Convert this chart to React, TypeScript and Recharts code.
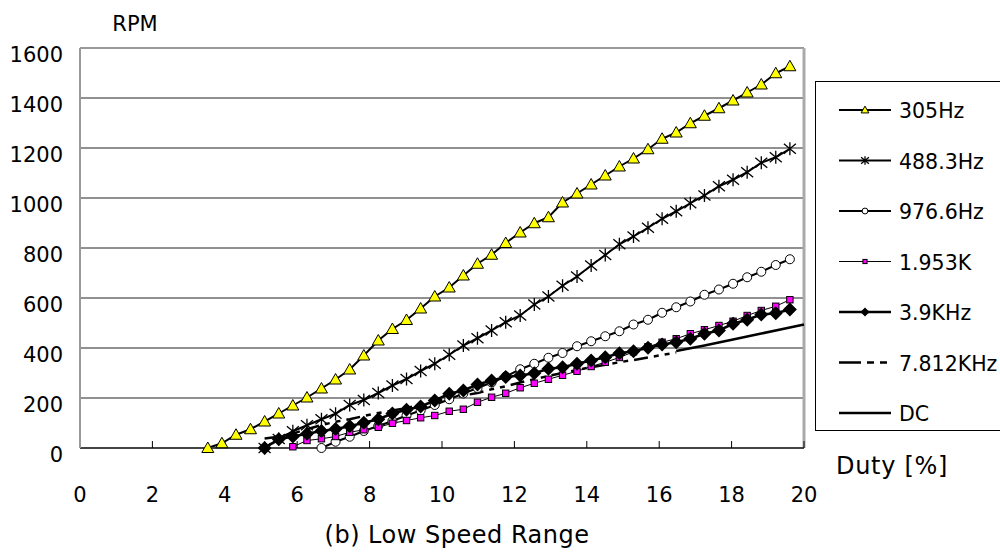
import { CartesianGrid, Legend, Line, LineChart, ReferenceLine, XAxis, YAxis } from 'recharts';

// duty steps of the 8-bit PWM (n = 9 .. 50)
const duty = [
  3.53, 3.92, 4.31, 4.71, 5.1, 5.49, 5.88, 6.27, 6.67, 7.06, 7.45, 7.84, 8.24, 8.63,
  9.02, 9.41, 9.8, 10.2, 10.59, 10.98, 11.37, 11.76, 12.16, 12.55, 12.94, 13.33, 13.73,
  14.12, 14.51, 14.9, 15.29, 15.69, 16.08, 16.47, 16.86, 17.25, 17.65, 18.04, 18.43,
  18.82, 19.22, 19.61,
];

const rpm305Hz = [
  0, 19, 53, 75, 106, 138, 170, 202, 238, 274, 314, 370, 430, 476, 512, 558, 606, 642,
  690, 737, 773, 820, 862, 899, 923, 982, 1018, 1054, 1090, 1126, 1158, 1195, 1237, 1262,
  1299, 1329, 1359, 1390, 1422, 1454, 1499, 1527,
];
const rpm488Hz = [
  0, 36, 67, 91, 115, 137, 172, 192, 220, 250, 276, 308, 337, 373, 410, 439, 470, 503,
  530, 574, 606, 649, 686, 730, 772, 815, 846, 881, 917, 947, 979, 1010, 1047, 1073, 1103,
  1141, 1163, 1197,
];
const rpm976Hz = [
  0, 25, 45, 68, 88, 108, 130, 150, 172, 195, 218, 240, 262, 286, 315, 337, 361, 380, 407,
  427, 447, 467, 494, 513, 541, 563, 586, 613, 634, 657, 683, 705, 732, 755,
];
const rpm1953Hz = [
  5, 30, 37, 46, 63, 73, 83, 99, 110, 121, 130, 147, 155, 183, 203, 219, 241, 259, 275,
  291, 307, 326, 343, 362, 385, 405, 423, 437, 457, 473, 490, 507, 530, 550, 567, 593,
];
const rpm3900Hz = [
  0, 35, 46, 57, 68, 76, 87, 101, 115, 138, 153, 166, 190, 217, 230, 254, 270, 284, 290,
  299, 317, 323, 337, 350, 363, 379, 387, 401, 414, 423, 437, 457, 470, 497, 513, 534, 539,
  554,
];
const rpm7812Hz = [
  38, 45, 58, 75, 92, 105, 115, 128, 140, 150, 160, 172, 185, 198, 210, 220, 235, 247, 262,
  275, 288, 300, 312, 323, 333, 343, 352, 362, 372, 382,
];
const dcDuty = [16.47, 17.25, 18.04, 18.82, 19.61, 20];
const dcRpm = [388, 410, 434, 458, 482, 494];

const xTicks = [0, 2, 4, 6, 8, 10, 12, 14, 16, 18, 20];
const yTicks = [0, 200, 400, 600, 800, 1000, 1200, 1400, 1600];

const font = '"DejaVu Sans", sans-serif';

const toPoints = (xs: number[], ys: number[]) => ys.map((y, i) => ({ x: xs[i], y }));

const series = [
  { name: '305Hz', data: toPoints(duty.slice(0), rpm305Hz), kind: 'triangle', width: 2 },
  { name: '488.3Hz', data: toPoints(duty.slice(4), rpm488Hz), kind: 'star', width: 2 },
  { name: '976.6Hz', data: toPoints(duty.slice(8), rpm976Hz), kind: 'circle', width: 2 },
  { name: '1.953K', data: toPoints(duty.slice(6), rpm1953Hz), kind: 'square', width: 1 },
  { name: '3.9KHz', data: toPoints(duty.slice(4), rpm3900Hz), kind: 'diamond', width: 2.5 },
  { name: '7.812KHz', data: toPoints(duty.slice(4), rpm7812Hz), kind: 'none', width: 2.5, dash: '14 6 5 6 5 6' },
  { name: 'DC', data: toPoints(dcDuty, dcRpm), kind: 'none', width: 2.5 },
];

function Marker({ kind, cx, cy, s = 1 }: { kind: string; cx: number; cy: number; s?: number }) {
  if (cx == null || cy == null) return null;
  switch (kind) {
    case 'triangle':
      return (
        <path
          d={`M${cx},${cy - 6 * s} L${cx + 6 * s},${cy + 4.5 * s} L${cx - 6 * s},${cy + 4.5 * s} Z`}
          fill="#ffff00"
          stroke="#000"
          strokeWidth={1}
        />
      );
    case 'star':
      return (
        <path
          d={`M${cx},${cy - 6.5 * s} V${cy + 6.5 * s} M${cx - 6 * s},${cy - 5 * s} L${cx + 6 * s},${cy + 5 * s} M${cx - 6 * s},${cy + 5 * s} L${cx + 6 * s},${cy - 5 * s}`}
          stroke="#000"
          strokeWidth={1.3}
          fill="none"
        />
      );
    case 'circle':
      return <circle cx={cx} cy={cy} r={4.5 * s} fill="#fff" stroke="#000" strokeWidth={1} />;
    case 'square':
      return (
        <rect x={cx - 3.2 * s} y={cy - 3.2 * s} width={6.4 * s} height={6.4 * s} fill="#ff00ff" stroke="#000" strokeWidth={1} />
      );
    case 'diamond':
      return <path d={`M${cx},${cy - 7 * s} L${cx + 7 * s},${cy} L${cx},${cy + 7 * s} L${cx - 7 * s},${cy} Z`} fill="#000" />;
    default:
      return null;
  }
}

function LegendBox() {
  return (
    <div style={{ width: 200, height: 350, border: '1px solid #000', boxSizing: 'border-box', background: '#fff' }}>
      <svg width={198} height={348}>
        {series.map((s, i) => {
          const y = 28 + i * 50.5;
          return (
            <g key={s.name}>
              <line
                x1={23}
                x2={75}
                y1={y}
                y2={y}
                stroke="#000"
                strokeWidth={s.width}
                strokeDasharray={s.name === '7.812KHz' ? '22 6 7 6 7 6' : undefined}
              />
              <Marker kind={s.kind} cx={49} cy={y} s={0.65} />
              <text x={83} y={y + 8} fontFamily={font} fontSize={20.5} fill="#000">
                {s.name}
              </text>
            </g>
          );
        })}
      </svg>
    </div>
  );
}

const YTick = ({ x, y, payload }: any) => (
  <text x={x} y={y + 14} textAnchor="end" fontFamily={font} fontSize={21} fill="#000">
    {payload.value}
  </text>
);

const XTick = ({ x, y, payload }: any) => (
  <text x={x} y={y + 54} textAnchor="middle" fontFamily={font} fontSize={21} fill="#000">
    {payload.value}
  </text>
);

export default function App() {
  return (
    <div style={{ position: 'absolute', left: 0, top: 0, width: 1000, height: 552, background: '#fff' }}>
      <LineChart width={1000} height={552} margin={{ top: 48, right: 196, left: 10, bottom: 64 }}>
        <CartesianGrid vertical={false} stroke="#222" strokeWidth={1} />
        <XAxis
          dataKey="x"
          type="number"
          domain={[0, 20]}
          ticks={xTicks}
          height={40}
          tickSize={-7}
          tickMargin={7}
          tickLine={{ stroke: '#000' }}
          axisLine={{ stroke: '#444', strokeWidth: 2 }}
          tick={<XTick />}
        />
        <YAxis
          type="number"
          domain={[0, 1600]}
          ticks={yTicks}
          width={70}
          tickLine={false}
          tickSize={0}
          tickMargin={17}
          axisLine={{ stroke: '#999', strokeWidth: 2 }}
          tick={<YTick />}
        />
        <ReferenceLine y={1600} stroke="#999" strokeWidth={2} />
        <ReferenceLine x={20} stroke="#aaa" strokeWidth={3} />
        {series.map((s) => (
          <Line
            key={s.name}
            data={s.data}
            dataKey="y"
            name={s.name}
            type="linear"
            stroke="#000"
            strokeWidth={s.width}
            strokeDasharray={s.dash}
            dot={s.kind === 'none' ? false : (p: any) => <Marker key={`${s.name}-${p.index}`} kind={s.kind} cx={p.cx} cy={p.cy} />}
            activeDot={false}
            isAnimationActive={false}
          />
        ))}
        <Legend
          layout="horizontal"
          verticalAlign="middle"
          align="center"
          wrapperStyle={{ left: 815, top: 81, width: 200, height: 350 }}
          content={() => <LegendBox />}
        />
      </LineChart>
      <svg width={1000} height={552} style={{ position: 'absolute', left: 0, top: 0, pointerEvents: 'none' }}>
        <text x={135} y={31} textAnchor="middle" fontFamily={font} fontSize={21} fill="#000">
          RPM
        </text>
        <text x={836} y={474} fontFamily={font} fontSize={24} letterSpacing={0.7} fill="#000">
          Duty [%]
        </text>
        <text x={457} y={543} textAnchor="middle" fontFamily={font} fontSize={24} letterSpacing={0.5} fill="#000">
          (b) Low Speed Range
        </text>
      </svg>
    </div>
  );
}
